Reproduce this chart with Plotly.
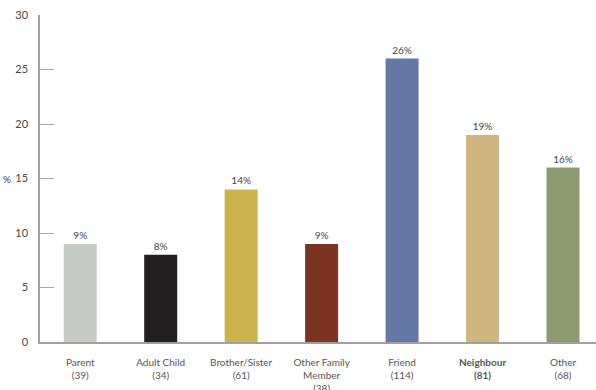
import plotly.graph_objects as go

categories = ["Parent<br>(39)", "Adult Child<br>(34)", "Brother/Sister<br>(61)",
              "Other Family<br>Member<br>(38)", "Friend<br>(114)",
              "<b>Neighbour</b><br><b>(81)</b>", "Other<br>(68)"]
values = [9, 8, 14, 9, 26, 19, 16]
bar_colors = ["#c5cac5", "#231f20", "#cdb34e", "#7a3421", "#6479a6", "#cfb57f", "#8c9a71"]
y_ticks = [0, 5, 10, 15, 20, 25, 30]

fig = go.Figure(go.Bar(
    x=list(range(len(categories))),
    y=values,
    marker=dict(color=bar_colors, line=dict(width=0)),
    text=[f"{v}%" for v in values],
    textposition="outside",
    textfont=dict(family="Lato, Open Sans, sans-serif", size=10, color="#444444"),
    cliponaxis=False,
))

fig.update_layout(
    width=596, height=390,
    margin=dict(l=40, r=0, t=15, b=48),
    paper_bgcolor="white", plot_bgcolor="white",
    bargap=0.59,
    showlegend=False,
    font=dict(family="Lato, Open Sans, sans-serif", color="#555555"),
)
fig.update_xaxes(
    tickmode="array", tickvals=list(range(len(categories))), ticktext=categories,
    range=[-0.5, 6.41], automargin=False,
    showline=True, linecolor="#a0a0a0", linewidth=1.5,
    showgrid=False, ticks="", tickfont=dict(size=10, color="#555555"),
    ticklabelstandoff=10,
)
fig.update_yaxes(
    range=[0, 30], tickvals=y_ticks, automargin=False,
    showline=True, linecolor="#a0a0a0", linewidth=1.5,
    showgrid=False, zeroline=False,
    ticks="inside", ticklen=14, tickcolor="#a8a8a8", tickwidth=1,
    tickfont=dict(size=11, color="#444444"),
    ticklabelstandoff=8,
)
fig.add_annotation(text="%", xref="paper", yref="y", x=0, y=15,
                   xshift=-27, showarrow=False, xanchor="right",
                   font=dict(size=10, color="#444444"))

fig.write_html("out.html")
